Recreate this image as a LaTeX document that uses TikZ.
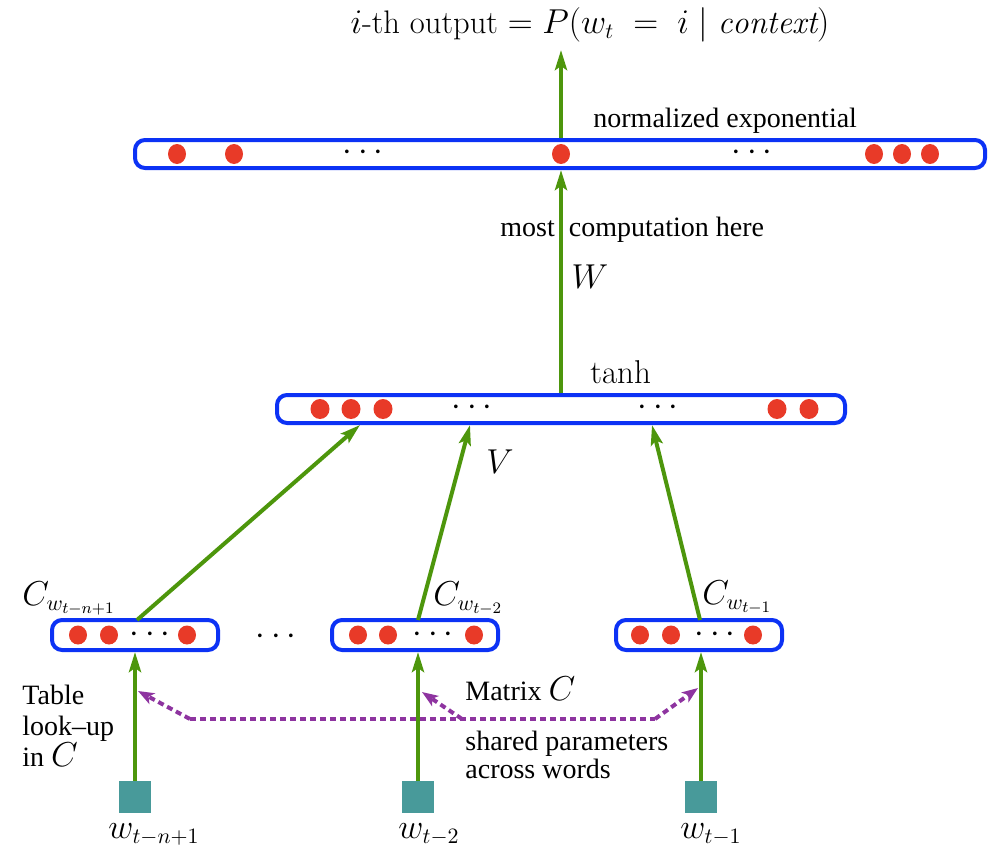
\documentclass[tikz,border=0pt]{standalone}
\usepackage{fontspec}
\newfontfamily\tms[Ligatures=TeX]{Liberation Serif}
\usetikzlibrary{arrows.meta,shapes.geometric,calc}
\definecolor{grn}{RGB}{77,150,12}
\definecolor{blu}{RGB}{12,50,245}
\definecolor{rdot}{RGB}{232,58,40}
\definecolor{tealsq}{RGB}{72,154,154}
\definecolor{pur}{RGB}{142,52,160}
\begin{document}
\begin{tikzpicture}[x=0.5pt,y=-0.5pt,
  layerbox/.style={draw=blu, line width=2pt, rounded corners=5pt, minimum height=14pt, inner sep=0pt},
  rdotnode/.style={ellipse, fill=rdot, inner sep=0pt, minimum width=9pt, minimum height=10pt},
  wordsq/.style={fill=tealsq, minimum size=16pt, inner sep=0pt},
  garrow/.style={draw=grn, line width=2pt, -{Stealth[length=10pt,width=6pt,inset=2pt]}},
  pline/.style={draw=pur, line width=2pt, dash pattern=on 3pt off 2pt},
  ptip/.style={-{Stealth[length=8pt,width=6pt,inset=2pt]}},
  txt/.style={font=\tms\fontsize{14}{15}\selectfont, inner sep=0pt},
  mth/.style={font=\fontsize{16}{19}\selectfont, inner sep=0pt},
  dotsnode/.style={font=\fontsize{16}{19}\selectfont, inner sep=0pt}
]
\useasboundingbox (0,0) rectangle (990,846);

% layers
\node[layerbox, minimum width=425pt] (topbox) at (560,154) {};
\node[layerbox, minimum width=284pt] (midbox) at (561,409) {};
\node[layerbox, minimum width=83pt, minimum height=15pt] (box1) at (135,635) {};
\node[layerbox, minimum width=83pt, minimum height=15pt] (box2) at (415,635) {};
\node[layerbox, minimum width=83pt, minimum height=15pt] (box3) at (699,635) {};

% dots in top box
\foreach \x/\n in {177/t1,234/t2,561/t3,874/t4,902/t5,930/t6}
  \node[rdotnode] (\n) at (\x,154) {};
\node[dotsnode] (td1) at (363,153) {$\cdots$};
\node[dotsnode] (td2) at (752,153) {$\cdots$};

% dots in mid box
\foreach \x/\n in {320/m1,351/m2,383/m3,777/m4,809/m5}
  \node[rdotnode, minimum width=9.5pt] (\n) at (\x,409) {};
\node[dotsnode] (md1) at (472,408) {$\cdots$};
\node[dotsnode] (md2) at (658,408) {$\cdots$};

% dots in small boxes
\foreach \x/\n in {78/a1,109/a2,187/a3,358/b1,388/b2,474/b3,640/c1,671/c2,753/c3}
  \node[rdotnode, minimum width=9pt, minimum height=9.5pt] (\n) at (\x,635) {};
\node[dotsnode] (ad) at (150,635) {$\cdots$};
\node[dotsnode] (bd) at (433,635) {$\cdots$};
\node[dotsnode] (cd) at (715,635) {$\cdots$};
\node[dotsnode] (between) at (276,637) {$\cdots$};

% word squares
\node[wordsq] (s1) at (135,797) {};
\node[wordsq] (s2) at (418,797) {};
\node[wordsq] (s3) at (701,797) {};

% coordinates
\coordinate (out) at (561,50);
\coordinate (v1) at (360,425);
\coordinate (v2) at (470,425);
\coordinate (v3) at (652,425);
\coordinate (u1) at (137,620);
\coordinate (u2) at (418,620);
\coordinate (u3) at (700,620);

% green arrows
\draw[garrow] (s1) -- (s1 |- box1.south);
\draw[garrow] (s2) -- (s2 |- box2.south);
\draw[garrow] (s3) -- (s3 |- box3.south);
\draw[garrow] (u1) -- (v1);
\draw[garrow] (u2) -- (v2);
\draw[garrow] (u3) -- (v3);
\draw[garrow] (midbox.north -| t3) -- (topbox.south -| t3);
\draw[garrow] (topbox.north -| t3) -- (out);

% purple shared parameters
\coordinate (pa) at (138,691);
\coordinate (pb) at (422,692);
\coordinate (pc) at (698,688);
\coordinate (k1) at (190,719);
\coordinate (k2) at (462,719);
\coordinate (k3) at (655,719);
\draw[pline, ptip] (k1) -- (pa);
\draw[pline] (k1) -- (k3);
\draw[pline, ptip] (k3) -- (pc);
\draw[pline, ptip] (k2) -- (pb);

% texts
\node[mth, anchor=base, font=\fontsize{16.3}{19}\selectfont] (title) at (590,33) {$i$-th output $= P(w_t \;=\; i \mid \mathit{context})$};
\node[txt, anchor=base west] (normexp) at (593,127) {normalized exponential};
\node[txt, anchor=base west] (most) at (500,236) {most\ \ computation here};
\node[mth] (W) at (590,277) {$W$};
\node[mth, anchor=base west, font=\fontsize{16.5}{19}\selectfont] (tanh) at (590,383) {tanh};
\node[mth] (V) at (500,462) {$V$};
\node[mth, anchor=base west] (cl1) at (22,605) {$C_{w_{t-n+1}}$};
\node[mth, anchor=base west] (cl2) at (433,605) {$C_{w_{t-2}}$};
\node[mth, anchor=base west] (cl3) at (702,604) {$C_{w_{t-1}}$};
\node[mth, anchor=base west] (wl1) at (108,838) {$w_{t-n+1}$};
\node[mth, anchor=base west] (wl2) at (398,838) {$w_{t-2}$};
\node[mth, anchor=base west] (wl3) at (680,838) {$w_{t-1}$};
\node[txt, anchor=north west, align=left, font=\tms\fontsize{14}{15.3}\selectfont] (table) at (22,685) {Table\\look–up\\in {\fontsize{16}{19}\selectfont$C$}};
\node[txt, anchor=base west] (matrix) at (465,700) {Matrix\ {\fontsize{16}{19}\selectfont$C$}};
\node[txt, anchor=north west, align=left, font=\tms\fontsize{14}{14}\selectfont] (shared) at (465,731) {shared parameters\\across words};
\end{tikzpicture}
\end{document}
